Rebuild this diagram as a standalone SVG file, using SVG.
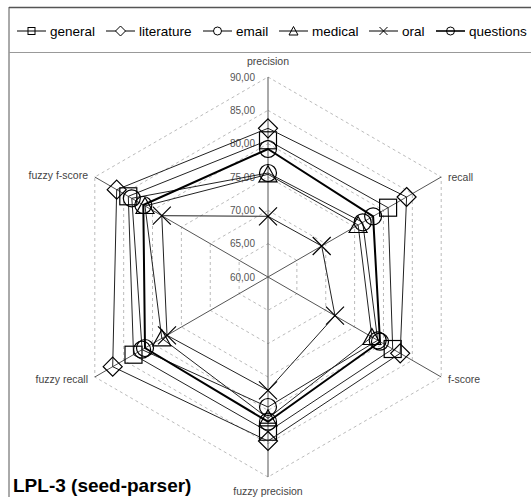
<svg xmlns="http://www.w3.org/2000/svg" xmlns:xlink="http://www.w3.org/1999/xlink" width="531" height="497" viewBox="0 0 531 497">
<style>
text{font-family:"Liberation Sans",Arial,sans-serif}
.leg{font-size:13.5px;fill:#000}
.ax{font-size:10.5px;fill:#444}
.tick{font-size:10px;fill:#555;text-anchor:end}
.grid{fill:none;stroke:#bbb;stroke-width:1;stroke-dasharray:3 3}
.axis{stroke:#555;stroke-width:1}
.s{fill:none;stroke:#222;stroke-width:1;stroke-linejoin:round}
.sb{fill:none;stroke:#000;stroke-width:2;stroke-linejoin:round}
.mk{fill:none;stroke:#000;stroke-width:1.2}
.lm{fill:none;stroke:#000;stroke-width:1}
</style>
<defs>
<g id="sq"><rect x="-8.5" y="-8.5" width="17" height="17"/></g>
<g id="di"><path d="M0,-9.5 L9.5,0 L0,9.5 L-9.5,0 Z"/></g>
<g id="ci"><circle r="8.5"/></g>
<g id="tr"><path d="M0,-8.5 L9,7.5 L-9,7.5 Z"/></g>
<g id="xx"><path d="M-9,-9 L9,9 M-9,9 L9,-9"/></g>
</defs>
<rect width="531" height="497" fill="#fff"/>
<g id="frame">
<line x1="9" y1="7.5" x2="531" y2="7.5" stroke="#555" stroke-width="1.5"/>
<line x1="9" y1="7" x2="9" y2="497" stroke="#555" stroke-width="1"/>
<line x1="9" y1="52.5" x2="531" y2="52.5" stroke="#999" stroke-width="1"/>
</g>
<g id="legend">
<g id="leg-general"><line class="lm" x1="17" y1="31" x2="46" y2="31"/><rect class="lm" x="28" y="27.5" width="7" height="7"/><text class="leg" x="50" y="36">general</text></g>
<g id="leg-literature"><line class="lm" x1="106" y1="31" x2="135" y2="31"/><path class="lm" d="M120.5,26 L125.5,31 L120.5,36 L115.5,31 Z" fill="#fff" style="fill:#fff"/><text class="leg" x="139" y="36">literature</text></g>
<g id="leg-email"><line class="lm" x1="203" y1="31" x2="232" y2="31"/><circle class="lm" cx="217.5" cy="31" r="4" style="fill:#fff"/><text class="leg" x="236" y="36">email</text></g>
<g id="leg-medical"><line class="lm" x1="279" y1="31" x2="308" y2="31"/><path class="lm" d="M293.5,26.5 L298,35 L289,35 Z"/><text class="leg" x="312" y="36">medical</text></g>
<g id="leg-oral"><line class="lm" x1="369" y1="31" x2="398" y2="31"/><path class="lm" d="M379.5,27 L387.5,35 M379.5,35 L387.5,27"/><text class="leg" x="402" y="36">oral</text></g>
<g id="leg-questions"><line x1="436" y1="31" x2="465" y2="31" stroke="#000" stroke-width="1.6"/><circle class="lm" cx="450.5" cy="31" r="4"/><text class="leg" x="469" y="36">questions</text></g>
</g>
<g id="grid">
<polygon class="grid" points="268,243.67 296.87,260.33 296.87,293.67 268,310.33 239.13,293.67 239.13,260.33"/>
<polygon class="grid" points="268,210.33 325.74,243.67 325.74,310.33 268,343.67 210.26,310.33 210.26,243.67"/>
<polygon class="grid" points="268,177 354.6,227 354.6,327 268,377 181.4,327 181.4,227"/>
<polygon class="grid" points="268,143.67 383.47,210.33 383.47,343.67 268,410.33 152.53,343.67 152.53,210.33"/>
<polygon class="grid" points="268,110.33 412.34,193.67 412.34,360.33 268,443.67 123.66,360.33 123.66,193.67"/>
<polygon class="grid" points="268,77 441.2,177 441.2,377 268,477 94.8,377 94.8,177"/>
</g>
<g id="axes">
<line class="axis" x1="268" y1="277" x2="268" y2="77"/>
<line class="axis" x1="268" y1="277" x2="441.2" y2="177"/>
<line class="axis" x1="268" y1="277" x2="441.2" y2="377"/>
<line class="axis" x1="268" y1="277" x2="268" y2="477"/>
<line class="axis" x1="268" y1="277" x2="94.8" y2="377"/>
<line class="axis" x1="268" y1="277" x2="94.8" y2="177"/>
</g>
<g id="ticks">
<text class="tick" x="255" y="80.5">90,00</text>
<text class="tick" x="255" y="113.8">85,00</text>
<text class="tick" x="255" y="147.2">80,00</text>
<text class="tick" x="255" y="180.5">75,00</text>
<text class="tick" x="255" y="213.8">70,00</text>
<text class="tick" x="255" y="247.2">65,00</text>
<text class="tick" x="255" y="280.5">60,00</text>
</g>
<g id="axis-labels">
<text class="ax" x="268" y="64.5" text-anchor="middle">precision</text>
<text class="ax" x="448" y="180.5">recall</text>
<text class="ax" x="448" y="383">f-score</text>
<text class="ax" x="268" y="495" text-anchor="middle">fuzzy precision</text>
<text class="ax" x="88" y="383" text-anchor="end">fuzzy recall</text>
<text class="ax" x="88" y="178.5" text-anchor="end">fuzzy f-score</text>
</g>
<g id="series">
<g id="s-general">
<polygon class="s" points="268,140.3 388.1,207.7 392.7,349 268,431.7 133.5,354.7 128.3,196.3"/>
<g class="mk"><use xlink:href="#sq" x="268" y="140.3"/><use xlink:href="#sq" x="388.1" y="207.7"/><use xlink:href="#sq" x="392.7" y="349"/><use xlink:href="#sq" x="268" y="431.7"/><use xlink:href="#sq" x="133.5" y="354.7"/><use xlink:href="#sq" x="128.3" y="196.3"/></g>
</g>
<g id="s-literature">
<polygon class="s" points="268,128.3 406.6,197 400.2,353.3 268,441 112.7,366.7 116.7,189.7"/>
<g class="mk"><use xlink:href="#di" x="268" y="128.3"/><use xlink:href="#di" x="406.6" y="197"/><use xlink:href="#di" x="400.2" y="353.3"/><use xlink:href="#di" x="268" y="441"/><use xlink:href="#di" x="112.7" y="366.7"/><use xlink:href="#di" x="116.7" y="189.7"/></g>
</g>
<g id="s-email">
<polygon class="s" points="268,173 362.7,222.3 377.7,340.3 268,407 142.1,349.7 131.8,198.3"/>
<g class="mk"><use xlink:href="#ci" x="268" y="173"/><use xlink:href="#ci" x="362.7" y="222.3"/><use xlink:href="#ci" x="377.7" y="340.3"/><use xlink:href="#ci" x="268" y="407"/><use xlink:href="#ci" x="142.1" y="349.7"/><use xlink:href="#ci" x="131.8" y="198.3"/></g>
</g>
<g id="s-medical">
<polygon class="s" points="268,174.3 358.1,225 371.9,337 268,418.3 161.8,338.3 145,206"/>
<g class="mk"><use xlink:href="#tr" x="268" y="174.3"/><use xlink:href="#tr" x="358.1" y="225"/><use xlink:href="#tr" x="371.9" y="337"/><use xlink:href="#tr" x="268" y="418.3"/><use xlink:href="#tr" x="161.8" y="338.3"/><use xlink:href="#tr" x="145" y="206"/></g>
</g>
<g id="s-oral">
<polygon class="s" points="268,216.3 321.7,246 335,315.7 268,390.3 167,335.3 161.8,215.7"/>
<g class="mk"><use xlink:href="#xx" x="268" y="216.3"/><use xlink:href="#xx" x="321.7" y="246"/><use xlink:href="#xx" x="335" y="315.7"/><use xlink:href="#xx" x="268" y="390.3"/><use xlink:href="#xx" x="167" y="335.3"/><use xlink:href="#xx" x="161.8" y="215.7"/></g>
</g>
<g id="s-questions">
<polygon class="sb" points="268,149 373.1,216.3 380,341.7 268,421.7 145,348 143.3,205"/>
<g class="mk"><use xlink:href="#ci" x="268" y="149"/><use xlink:href="#ci" x="373.1" y="216.3"/><use xlink:href="#ci" x="380" y="341.7"/><use xlink:href="#ci" x="268" y="421.7"/><use xlink:href="#ci" x="145" y="348"/><use xlink:href="#ci" x="143.3" y="205"/></g>
</g>
</g>
<text x="13" y="492" font-size="19" font-weight="bold" fill="#000">LPL-3 (seed-parser)</text>
</svg>
